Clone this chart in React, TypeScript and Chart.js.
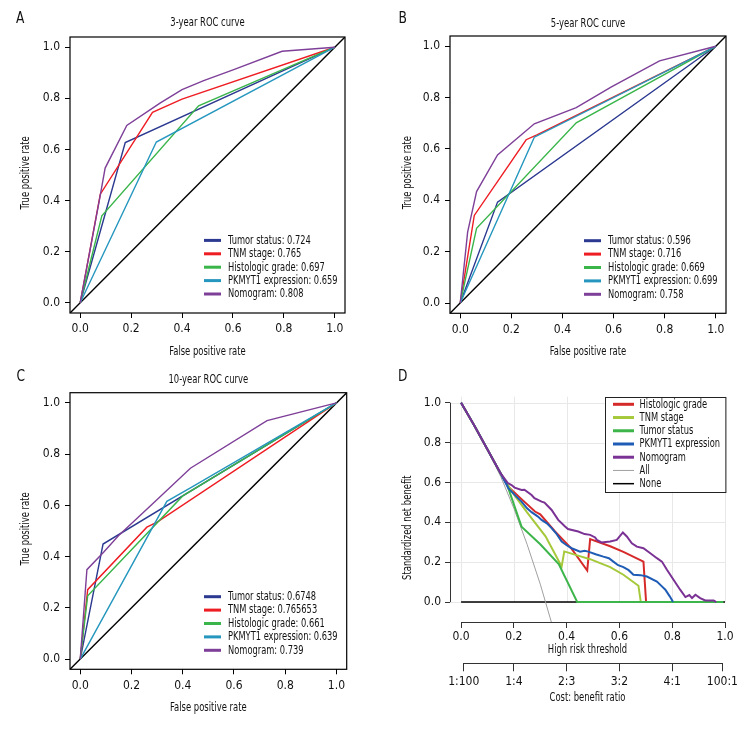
import React, { useEffect, useRef } from "react";
import { Chart, registerables } from "chart.js";
Chart.register(...registerables);

const FONT = "'Liberation Sans Narrow', 'DejaVu Sans Condensed', 'Arial Narrow', sans-serif";
const TXT = "#111111";
const SX = 0.72; // horizontal condensing of free text to mimic the narrow source font
const FS = 13;

// ---------- ROC panels (A, B, C) ----------
const rocNames = ["Tumor status", "TNM stage", "Histologic grade", "PKMYT1 expression", "Nomogram"];
const rocColors = ["#2b3990", "#ee1d23", "#39b54a", "#2596be", "#7e3f98"];
const rocTicks = [0, 0.2, 0.4, 0.6, 0.8, 1.0];
const rocLimits = [-0.04, 1.04];
const refLine = [[-0.04, -0.04], [1.04, 1.04]];

// A: 3-year
const auc3 = ["0.724", "0.765", "0.697", "0.659", "0.808"];
const roc3Tumor = [[0, 0], [0.177, 0.627], [1, 1]];
const roc3Tnm = [[0, 0], [0.079, 0.425], [0.284, 0.745], [0.4, 0.797], [1, 1]];
const roc3Hist = [[0, 0], [0.085, 0.34], [0.465, 0.771], [1, 1]];
const roc3Pk = [[0, 0], [0.299, 0.629], [1, 1]];
const roc3Nomo = [[0, 0], [0.075, 0.4], [0.098, 0.527], [0.183, 0.694], [0.315, 0.782], [0.4, 0.834], [0.485, 0.869], [0.603, 0.912], [0.793, 0.984], [1, 1]];

// B: 5-year
const auc5 = ["0.596", "0.716", "0.669", "0.699", "0.758"];
const roc5Tumor = [[0, 0], [0.146, 0.393], [1, 1]];
const roc5Tnm = [[0, 0], [0.055, 0.341], [0.258, 0.636], [0.3, 0.655], [1, 1]];
const roc5Hist = [[0, 0], [0.064, 0.291], [0.454, 0.702], [1, 1]];
const roc5Pk = [[0, 0], [0.29, 0.646], [1, 1]];
const roc5Nomo = [[0, 0], [0.029, 0.276], [0.064, 0.434], [0.146, 0.577], [0.29, 0.698], [0.454, 0.761], [0.59, 0.841], [0.78, 0.943], [1, 1]];

// C: 10-year
const auc10 = ["0.6748", "0.765653", "0.661", "0.639", "0.739"];
const roc10Tumor = [[0, 0], [0.089, 0.449], [1, 1]];
const roc10Tnm = [[0, 0], [0.029, 0.271], [0.26, 0.515], [0.3, 0.535], [1, 1]];
const roc10Hist = [[0, 0], [0.029, 0.247], [0.4, 0.637], [1, 1]];
const roc10Pk = [[0, 0], [0.338, 0.616], [0.43, 0.668], [1, 1]];
const roc10Nomo = [[0, 0], [0.026, 0.349], [0.091, 0.417], [0.15, 0.482], [0.267, 0.592], [0.43, 0.745], [0.729, 0.931], [1, 1]];

// ---------- DCA panel (D) ----------
const dcaNames = ["Histologic grade", "TNM stage", "Tumor status", "PKMYT1 expression", "Nomogram", "All", "None"];
const dcaColors = ["#d62a2a", "#a5c93b", "#3db54a", "#1f5cb5", "#7b3295", "#a0a0a0", "#000000"];
const dcaTicks = [0, 0.2, 0.4, 0.6, 0.8, 1.0];
const costTicks = [0.01, 0.2, 0.4, 0.6, 0.8, 0.99];
const costLabels = ["1:100", "1:4", "2:3", "3:2", "4:1", "100:1"];

const dcaHist = [[0, 1], [0.05, 0.885], [0.1, 0.765], [0.15, 0.645], [0.179, 0.579], [0.23, 0.515], [0.28, 0.454], [0.3, 0.44], [0.356, 0.354], [0.419, 0.267], [0.478, 0.158], [0.489, 0.316], [0.565, 0.28], [0.615, 0.252], [0.691, 0.203], [0.701, 0]];
const dcaTnm = [[0, 1], [0.05, 0.885], [0.1, 0.765], [0.15, 0.645], [0.172, 0.597], [0.2, 0.54], [0.25, 0.45], [0.32, 0.33], [0.381, 0.178], [0.391, 0.254], [0.44, 0.234], [0.489, 0.215], [0.565, 0.175], [0.615, 0.137], [0.672, 0.082], [0.681, 0]];
const dcaTumor = [[0, 1], [0.05, 0.885], [0.1, 0.765], [0.15, 0.645], [0.172, 0.597], [0.2, 0.49], [0.229, 0.378], [0.3, 0.29], [0.37, 0.19], [0.44, 0], [0.994, 0]];
const dcaPk = [[0, 1], [0.05, 0.885], [0.1, 0.765], [0.15, 0.645], [0.179, 0.571], [0.205, 0.535], [0.229, 0.504], [0.25, 0.47], [0.267, 0.451], [0.29, 0.43], [0.305, 0.412], [0.325, 0.395], [0.343, 0.371], [0.36, 0.345], [0.381, 0.303], [0.4, 0.285], [0.419, 0.27], [0.451, 0.253], [0.468, 0.257], [0.482, 0.253], [0.51, 0.24], [0.539, 0.228], [0.56, 0.22], [0.577, 0.203], [0.595, 0.185], [0.615, 0.175], [0.635, 0.16], [0.653, 0.137], [0.68, 0.135], [0.704, 0.128], [0.742, 0.103], [0.76, 0.08], [0.774, 0.062], [0.79, 0.03], [0.799, 0.01], [0.803, 0]];
const dcaNomo = [[0, 1], [0.05, 0.885], [0.1, 0.765], [0.15, 0.645], [0.177, 0.597], [0.191, 0.587], [0.203, 0.574], [0.229, 0.562], [0.24, 0.563], [0.267, 0.537], [0.278, 0.521], [0.305, 0.504], [0.316, 0.499], [0.343, 0.462], [0.368, 0.412], [0.394, 0.379], [0.405, 0.366], [0.444, 0.354], [0.468, 0.341], [0.489, 0.337], [0.508, 0.324], [0.514, 0.312], [0.532, 0.299], [0.565, 0.304], [0.59, 0.312], [0.613, 0.349], [0.628, 0.329], [0.647, 0.295], [0.666, 0.278], [0.691, 0.27], [0.717, 0.245], [0.742, 0.22], [0.761, 0.203], [0.78, 0.162], [0.805, 0.112], [0.83, 0.062], [0.85, 0.025], [0.865, 0.035], [0.875, 0.02], [0.888, 0.037], [0.906, 0.02], [0.925, 0.008], [0.957, 0.008], [0.967, 0]];
const dcaAll = [[0, 1], [0.05, 0.885], [0.1, 0.764], [0.15, 0.63], [0.2, 0.47], [0.25, 0.29], [0.3, 0.09], [0.342, -0.1]];
const dcaNone = [[0, 0], [1, 0]];

const toXY = (pts: number[][]) => pts.map(([x, y]) => ({ x, y }));
const font = (size = 12) => ({ family: FONT, size, weight: "normal" as const });
const fixTicks = (vals: number[]) => (s: any) => {
  s.ticks = vals.map((v) => ({ value: v }));
};

function drawText(ctx: CanvasRenderingContext2D, text: string, x: number, y: number, align: CanvasTextAlign = "left", rot = 0, size = FS, sx = SX) {
  ctx.save();
  ctx.translate(x, y);
  if (rot) ctx.rotate(rot);
  ctx.scale(sx, 1);
  ctx.font = `${size}px ${FONT}`;
  ctx.textAlign = align;
  ctx.textBaseline = "middle";
  ctx.fillStyle = TXT;
  ctx.fillText(text, 0, 0);
  ctx.restore();
}

type RocPanel = {
  letter: string; lx: number; ly: number; title: string; aucs: string[]; series: number[][][];
  left: number; right: number; top: number; bottom: number; titleY: number; xTitleY: number; yTitleX: number;
};

const panels: RocPanel[] = [
  { letter: "A", lx: 16, ly: 19, title: "3-year ROC curve", aucs: auc3, series: [roc3Tumor, roc3Tnm, roc3Hist, roc3Pk, roc3Nomo], left: 70, right: 345, top: 37, bottom: 313, titleY: 23, xTitleY: 352, yTitleX: 26 },
  { letter: "B", lx: 20.5, ly: 18.5, title: "5-year ROC curve", aucs: auc5, series: [roc5Tumor, roc5Tnm, roc5Hist, roc5Pk, roc5Nomo], left: 72, right: 348, top: 36, bottom: 313.3, titleY: 23.3, xTitleY: 351.7, yTitleX: 29.3 },
  { letter: "C", lx: 16.5, ly: 10.7, title: "10-year ROC curve", aucs: auc10, series: [roc10Tumor, roc10Tnm, roc10Hist, roc10Pk, roc10Nomo], left: 70, right: 346.7, top: 26.7, bottom: 303.3, titleY: 13.3, xTitleY: 341.7, yTitleX: 26 },
];

function rocConfig(p: RocPanel): any {
  const deco = {
    id: "rocDeco",
    afterDatasetsDraw(chart: any) {
      const { ctx, chartArea: a } = chart;
      ctx.save();
      ctx.strokeStyle = "#000";
      ctx.lineWidth = 1.2;
      ctx.strokeRect(a.left, a.top, a.right - a.left, a.bottom - a.top);
      const n = rocNames.length;
      rocNames.forEach((name, i) => {
        const y = a.bottom - 19 - (n - 1 - i) * 13.4;
        ctx.strokeStyle = rocColors[i];
        ctx.lineWidth = 3;
        ctx.beginPath();
        ctx.moveTo(a.left + 134, y);
        ctx.lineTo(a.left + 151, y);
        ctx.stroke();
        drawText(ctx, `${name}: ${p.aucs[i]}`, a.left + 158, y, "left", 0, FS, 0.71);
      });
      const cx = (a.left + a.right) / 2;
      drawText(ctx, p.title, cx, p.titleY, "center");
      drawText(ctx, "False positive rate", cx, p.xTitleY, "center");
      drawText(ctx, "True positive rate", p.yTitleX, (a.top + a.bottom) / 2 - 2, "center", -Math.PI / 2);
      drawText(ctx, p.letter, p.lx, p.ly, "left", 0, 16, 0.85);
      ctx.restore();
    },
  };
  const H = 366;
  return {
    type: "line",
    data: {
      datasets: [
        ...p.series.map((pts, i) => ({
          label: rocNames[i],
          data: toXY(pts),
          borderColor: rocColors[i],
          borderWidth: 1.4,
          pointRadius: 0,
          tension: 0,
          fill: false,
          order: 10 - i,
        })),
        { label: "reference", data: toXY(refLine), borderColor: "#000", borderWidth: 1.4, pointRadius: 0, order: 20 },
      ],
    },
    options: {
      animation: false,
      responsive: false,
      devicePixelRatio: 1,
      layout: { padding: { left: 0, right: 378 - p.right, top: p.top, bottom: 0 } },
      plugins: { legend: { display: false }, tooltip: { enabled: false }, title: { display: false } },
      scales: {
        x: {
          type: "linear",
          min: rocLimits[0],
          max: rocLimits[1],
          afterBuildTicks: fixTicks(rocTicks),
          afterFit: (s: any) => { s.height = H - p.bottom; },
          grid: { drawOnChartArea: false, drawTicks: true, tickLength: 5, color: "#000" },
          border: { display: false },
          ticks: { padding: 4, color: TXT, font: font(12), autoSkip: false, maxRotation: 0, callback: (v: any) => Number(v).toFixed(1) },
        },
        y: {
          type: "linear",
          min: rocLimits[0],
          max: rocLimits[1],
          afterBuildTicks: fixTicks(rocTicks),
          afterFit: (s: any) => { s.width = p.left; },
          grid: { drawOnChartArea: false, drawTicks: true, tickLength: 5, color: "#000" },
          border: { display: false },
          ticks: { padding: 5, color: TXT, font: font(12), callback: (v: any) => Number(v).toFixed(1) },
        },
      },
    },
    plugins: [deco],
  };
}

function dcaConfig(): any {
  const dcaWidths = [2, 2, 2, 2, 2, 1, 1.5];
  const series = [dcaHist, dcaTnm, dcaTumor, dcaPk, dcaNomo, dcaAll, dcaNone];
  const orders = [5, 4, 3, 2, 1, 6, 7];
  const deco = {
    id: "dcaDeco",
    beforeDatasetsDraw(chart: any) {
      const { ctx, chartArea: a, scales } = chart;
      const xs = scales.x, ys = scales.y;
      ctx.save();
      ctx.strokeStyle = "#e8e8e8";
      ctx.lineWidth = 1;
      const y0 = ys.getPixelForValue(0);
      dcaTicks.forEach((v) => {
        const y = Math.round(ys.getPixelForValue(v)) + 0.5;
        ctx.beginPath(); ctx.moveTo(a.left, y); ctx.lineTo(a.right, y); ctx.stroke();
        const x = Math.round(xs.getPixelForValue(v)) + 0.5;
        ctx.beginPath(); ctx.moveTo(x, y0); ctx.lineTo(x, a.top); ctx.stroke();
      });
      ctx.restore();
    },
    afterDraw(chart: any) {
      const { ctx, chartArea: a, scales } = chart;
      const xs = scales.x, ys = scales.y, x2 = scales.x2;
      ctx.save();
      ctx.strokeStyle = "#333";
      ctx.lineWidth = 1;
      const ax = Math.round(a.left) + 0.5;
      ctx.beginPath(); ctx.moveTo(ax, ys.getPixelForValue(0)); ctx.lineTo(ax, ys.getPixelForValue(1)); ctx.stroke();
      const ay = Math.round(a.bottom) + 0.5;
      ctx.beginPath(); ctx.moveTo(xs.getPixelForValue(0), ay); ctx.lineTo(xs.getPixelForValue(1), ay); ctx.stroke();
      const by = Math.round(x2.top) + 0.5;
      ctx.beginPath(); ctx.moveTo(x2.getPixelForValue(costTicks[0]), by); ctx.lineTo(x2.getPixelForValue(costTicks[costTicks.length - 1]), by); ctx.stroke();

      // legend box
      const bw = 120.4, bh = 95;
      const bx = a.right - bw, byy = a.top;
      ctx.fillStyle = "#fff";
      ctx.fillRect(bx, byy, bw, bh);
      ctx.strokeStyle = "#222";
      ctx.lineWidth = 1;
      ctx.strokeRect(Math.round(bx) + 0.5, Math.round(byy) + 0.5, bw, bh);
      dcaNames.forEach((name, i) => {
        const y = byy + 7.6 + i * 13.23;
        ctx.strokeStyle = dcaColors[i];
        ctx.lineWidth = i < 5 ? 3 : i === 5 ? 1 : 1.5;
        ctx.beginPath(); ctx.moveTo(bx + 8.4, y); ctx.lineTo(bx + 29.4, y); ctx.stroke();
        drawText(ctx, name, bx + 35, y, "left", 0, FS, 0.71);
      });

      const cx = (a.left + a.right) / 2;
      drawText(ctx, "Standardized net benefit", 29.3, 161.7, "center", -Math.PI / 2);
      drawText(ctx, "High risk threshold", cx, 284, "center");
      drawText(ctx, "Cost: benefit ratio", cx, 332, "center");
      drawText(ctx, "D", 20, 10.7, "left", 0, 16, 0.85);
      ctx.restore();
    },
  };
  return {
    type: "line",
    data: {
      datasets: series.map((pts, i) => ({
        label: dcaNames[i],
        data: toXY(pts),
        borderColor: dcaColors[i],
        borderWidth: dcaWidths[i],
        pointRadius: 0,
        tension: 0,
        fill: false,
        order: orders[i],
      })),
    },
    options: {
      animation: false,
      responsive: false,
      devicePixelRatio: 1,
      layout: { padding: { left: 0, right: 31, top: 30.7, bottom: 20 } },
      plugins: { legend: { display: false }, tooltip: { enabled: false }, title: { display: false } },
      scales: {
        x: {
          type: "linear",
          position: "bottom",
          weight: 0,
          min: -0.042,
          max: 1.0,
          afterBuildTicks: fixTicks(dcaTicks),
          afterFit: (s: any) => { s.height = 41.3; },
          grid: { drawOnChartArea: false, drawTicks: true, tickLength: 6, color: "#333" },
          border: { display: false },
          ticks: { padding: 2, color: TXT, font: font(12), autoSkip: false, maxRotation: 0, callback: (v: any) => Number(v).toFixed(1) },
        },
        x2: {
          type: "linear",
          axis: "x",
          position: "bottom",
          weight: 1,
          min: -0.042,
          max: 1.0,
          afterBuildTicks: fixTicks(costTicks),
          afterFit: (s: any) => { s.height = 48.7; },
          grid: { drawOnChartArea: false, drawTicks: true, tickLength: 8, color: "#333" },
          border: { display: false },
          ticks: { padding: 3, color: TXT, font: font(12), autoSkip: false, maxRotation: 0, callback: (_v: any, i: number) => costLabels[i] },
        },
        y: {
          type: "linear",
          min: -0.1,
          max: 1.03,
          afterBuildTicks: fixTicks(dcaTicks),
          afterFit: (s: any) => { s.width = 72; },
          grid: { drawOnChartArea: false, drawTicks: true, tickLength: 5, color: "#333" },
          border: { display: false },
          ticks: { padding: 4, color: TXT, font: font(12), callback: (v: any) => Number(v).toFixed(1) },
        },
      },
    },
    plugins: [deco],
  };
}

function ChartBox({ make, left, top }: { make: () => any; left: number; top: number }) {
  const ref = useRef<HTMLCanvasElement | null>(null);
  useEffect(() => {
    const chart = new Chart(ref.current as HTMLCanvasElement, make());
    return () => chart.destroy();
  }, []);
  return (
    <canvas
      ref={ref}
      width={378}
      height={366}
      style={{ position: "absolute", left, top, width: 378, height: 366 }}
    />
  );
}

export default function App() {
  return (
    <div style={{ position: "absolute", left: 0, top: 0, width: 756, height: 732, background: "#fff", overflow: "hidden" }}>
      <ChartBox make={() => rocConfig(panels[0])} left={0} top={0} />
      <ChartBox make={() => rocConfig(panels[1])} left={378} top={0} />
      <ChartBox make={() => rocConfig(panels[2])} left={0} top={366} />
      <ChartBox make={dcaConfig} left={378} top={366} />
    </div>
  );
}
